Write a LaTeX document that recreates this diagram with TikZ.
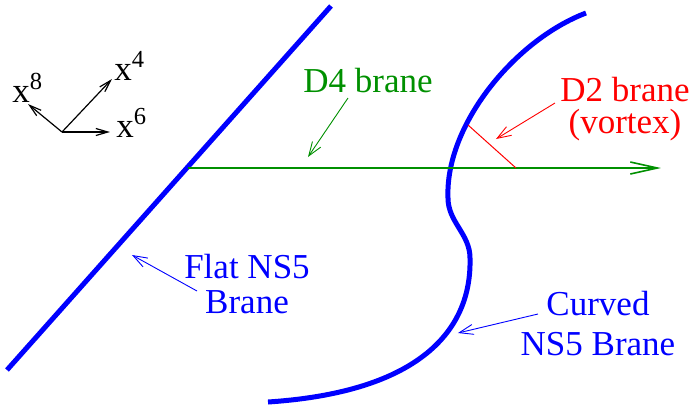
\documentclass[tikz,border=0pt]{standalone}
\usepackage{fontspec}
\setmainfont{Liberation Serif}
\usetikzlibrary{arrows.meta}
\definecolor{vert}{RGB}{0,144,0}

\tikzset{
  brane/.style={blue, line width=2.5pt},
  pointer/.style={-{Straight Barb[length=7pt,width=5pt]}, line width=0.45pt},
  txt/.style={inner sep=0pt, align=center, font=\fontsize{17.5}{17.5}\selectfont},
}

\begin{document}
\begin{tikzpicture}[x=0.5pt,y=-0.5pt]
\useasboundingbox (0,0) rectangle (693,409);

% Axes
  \coordinate (o) at (62,132);
  \coordinate (e4) at (112,79);
  \coordinate (e8) at (28,104);
  \coordinate (e6) at (110,132);
  \foreach \e in {e4,e8,e6}
    \draw[-{Straight Barb[length=6pt,width=3.5pt]}, line width=0.6pt] (o) -- (\e);
  \node[txt, anchor=base west] (x4) at (114,80) {x\textsuperscript{4}};
  \node[txt, anchor=base west] (x8) at (12,102) {x\textsuperscript{8}};
  \node[txt, anchor=base west] (x6) at (116,137) {x\textsuperscript{6}};

% Branes NS5
  \coordinate (fa) at (7,370);
  \coordinate (fb) at (331,6);
  \draw[brane] (fa) -- (fb);
  \draw[brane] (586,13) .. controls (515,40) and (445,125) .. (448,198)
                        .. controls (448,222) and (470,234) .. (470,258)
                        .. controls (472,330) and (420,392) .. (268,402);

% D4 et D2
  \coordinate (d4a) at (188,168);
  \coordinate (d4b) at (661,168);
  \draw[vert, line width=0.8pt, -{Straight Barb[length=13.5pt,width=6pt]}] (d4a) -- (d4b);
  \coordinate (d2a) at (468,125);
  \coordinate (d2b) at (516,168);
  \draw[red, line width=0.5pt] (d2a) -- (d2b);

% Labels (base = derniere ligne)
  \node[txt, vert, anchor=base] (d4lab) at (368,92) {D4 brane};
  \node[txt, red, anchor=base, font=\fontsize{17.5}{16}\selectfont] (d2lab) at (625,133) {D2 brane\\(vortex)};
  \node[txt, blue, anchor=base] (flatlab) at (247,313) {Flat NS5\\Brane};
  \node[txt, blue, anchor=base, font=\fontsize{17.5}{20}\selectfont] (curvlab) at (598,355) {Curved\\NS5 Brane};

% Fleches
  \coordinate (d4t) at (348,98);  \coordinate (d4p) at (308,157);
  \coordinate (d2t) at (555,103); \coordinate (d2p) at (496,139);
  \coordinate (flt) at (197,291); \coordinate (flp) at (132,255);
  \coordinate (cut) at (538,314); \coordinate (cup) at (458,333);
  \draw[pointer, vert] (d4t) -- (d4p);
  \draw[pointer, red] (d2t) -- (d2p);
  \draw[pointer, blue] (flt) -- (flp);
  \draw[pointer, blue] (cut) -- (cup);

\end{tikzpicture}
\end{document}
